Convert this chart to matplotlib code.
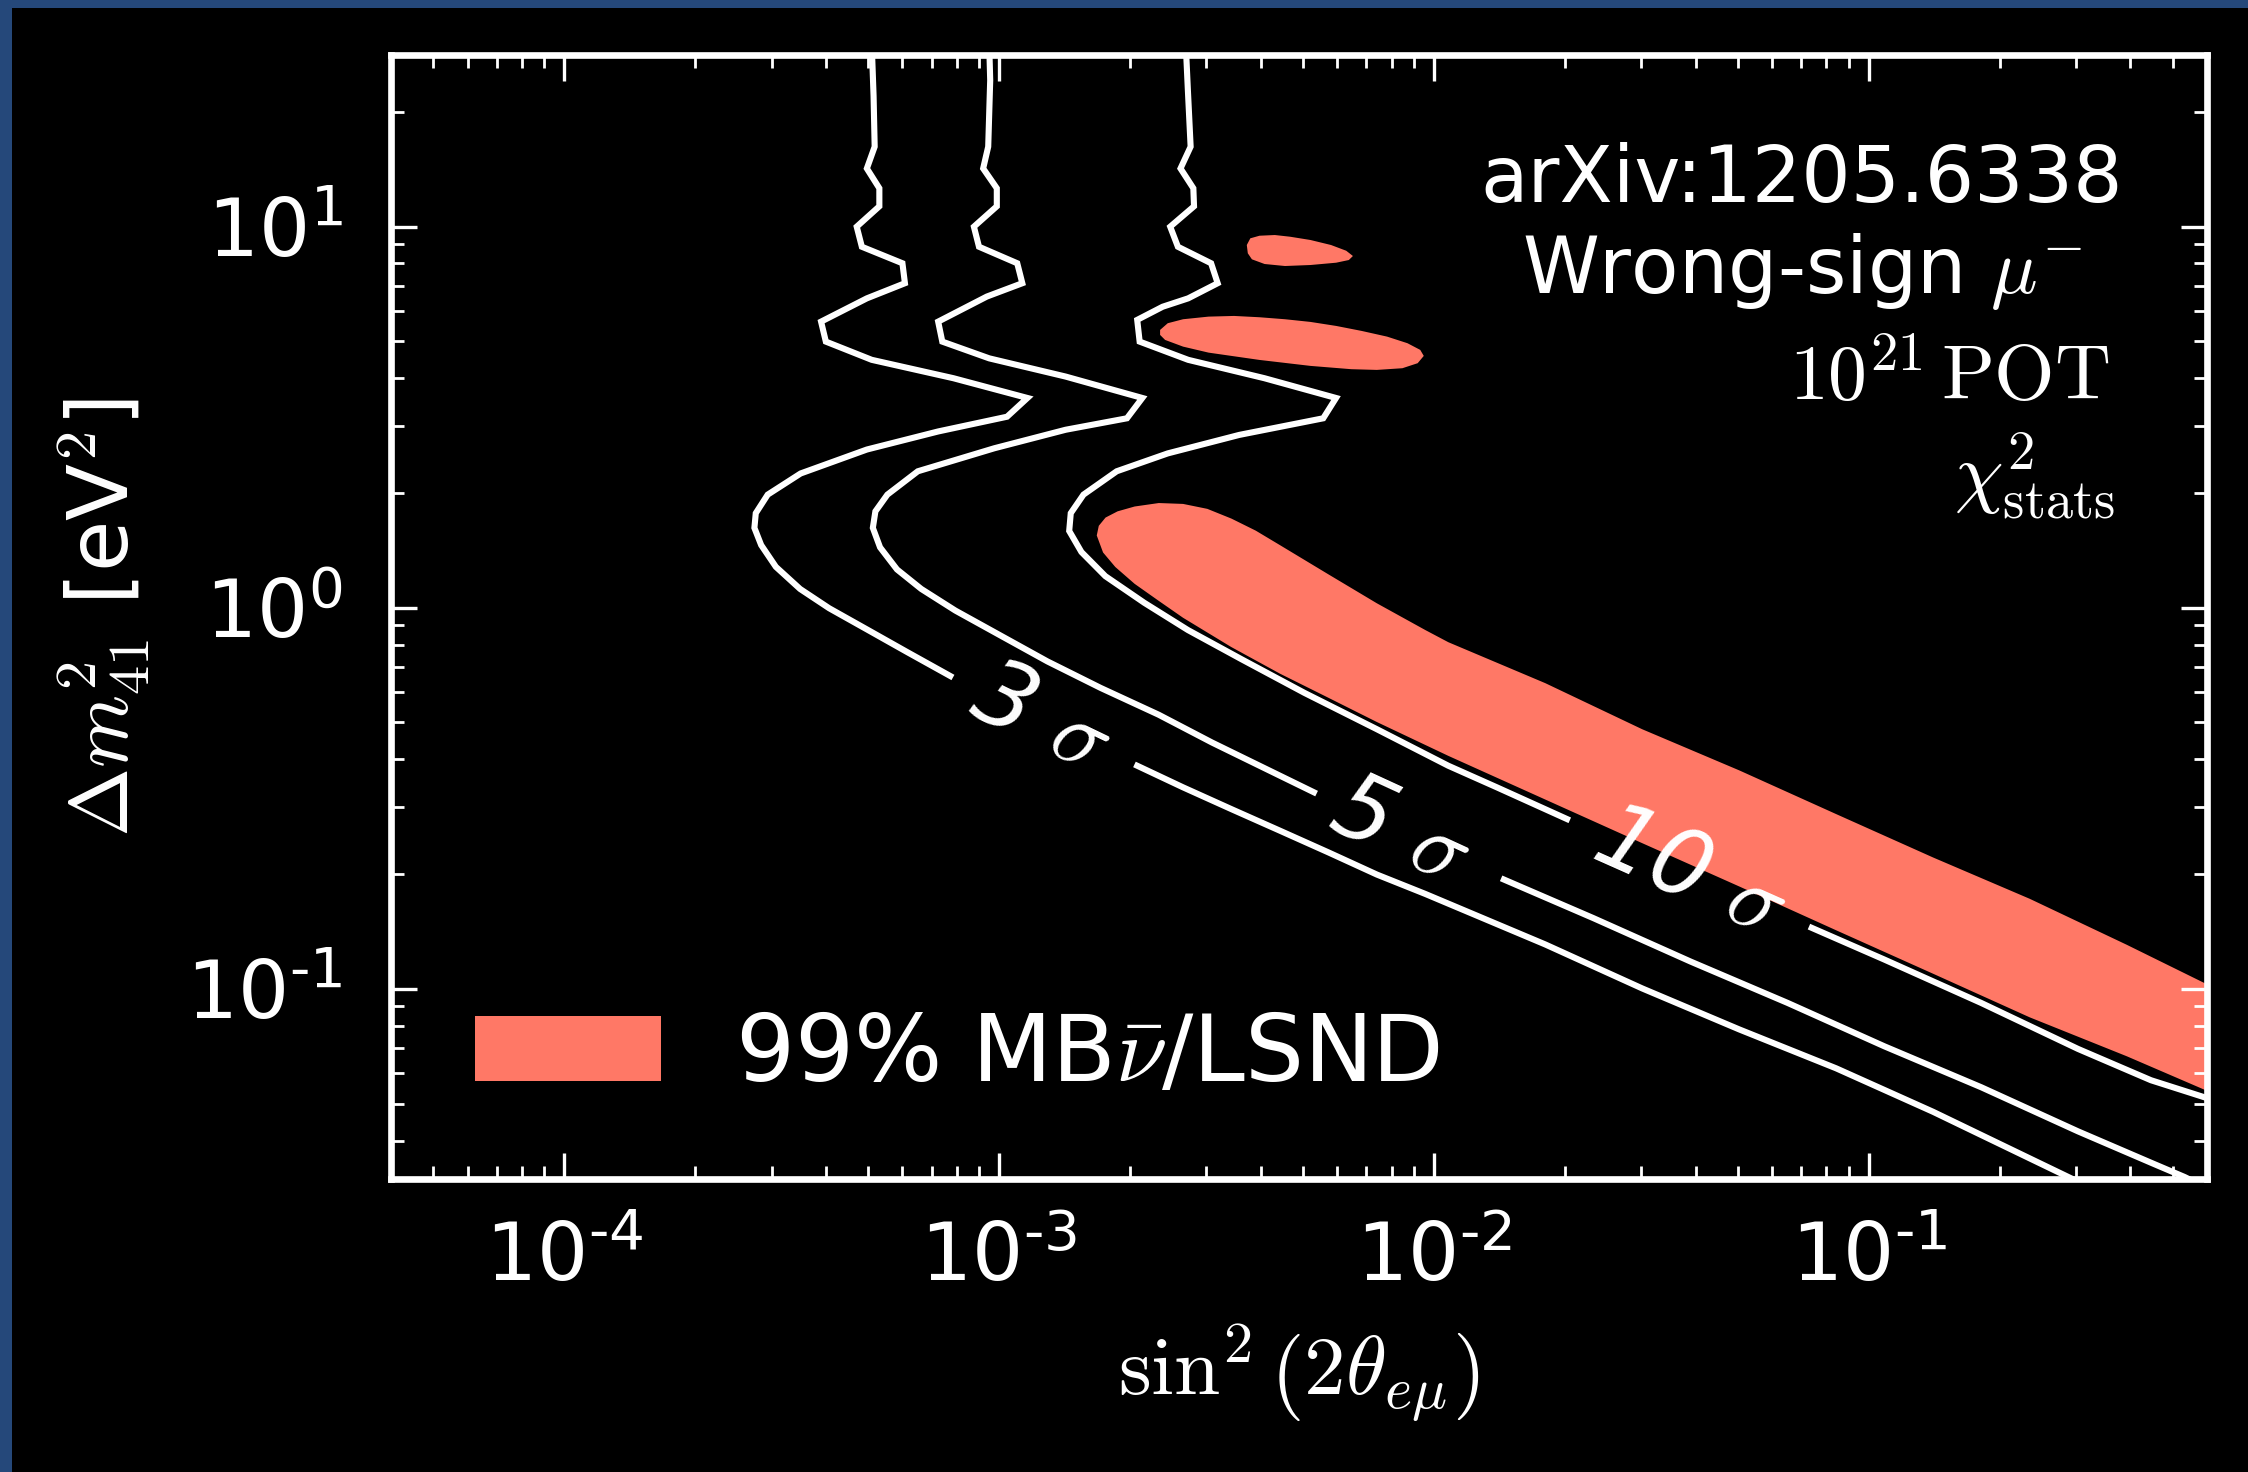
import numpy as np
import matplotlib
matplotlib.use("Agg")
import matplotlib.pyplot as plt
from matplotlib.patches import Patch, Rectangle
from matplotlib.ticker import LogLocator, NullFormatter

plt.rcParams['mathtext.fontset'] = 'cm'
plt.rcParams['font.family'] = ['DejaVu Sans']
plt.rcParams['axes.unicode_minus'] = False

# ---------------- data ----------------
# 3 sigma contour: part before the label, part after the label
sig3_a_x = [5.10e-4, 5.15e-4, 5.18e-4, 4.97e-4, 5.31e-4, 5.31e-4, 4.71e-4, 4.84e-4, 6.00e-4, 6.08e-4,
            4.97e-4, 3.90e-4, 4.00e-4, 5.10e-4, 7.86e-4, 1.163e-3, 1.044e-3, 7.25e-4, 4.97e-4, 3.50e-4,
            2.94e-4, 2.76e-4, 2.74e-4, 2.84e-4, 3.07e-4, 3.49e-4, 4.07e-4, 5.00e-4, 6.14e-4, 7.73e-4]
sig3_a_y = [30, 22, 16.2, 14.2, 12.6, 11.3, 9.99, 8.85, 8.01, 7.10,
            6.48, 5.63, 4.99, 4.47, 4.00, 3.55, 3.17, 2.90, 2.60, 2.25,
            1.98, 1.77, 1.62, 1.46, 1.28, 1.12, 0.997, 0.874, 0.766, 0.662]
sig3_b_x = [2.08e-3, 2.65e-3, 3.43e-3, 4.43e-3, 5.73e-3, 7.40e-3, 9.56e-3, 1.805e-2, 3.015e-2,
            5.04e-2, 8.42e-2, 0.1407, 0.288, 0.33]
sig3_b_y = [0.385, 0.338, 0.296, 0.260, 0.228, 0.1995, 0.1775, 0.1308, 0.1003,
            0.0783, 0.0619, 0.0476, 0.0321, 0.0298]

# 5 sigma contour
sig5_a_x = [9.50e-4, 9.55e-4, 9.45e-4, 9.20e-4, 9.89e-4, 9.89e-4, 8.76e-4, 9.00e-4, 1.102e-3, 1.132e-3,
            9.38e-4, 7.25e-4, 7.41e-4, 9.50e-4, 1.424e-3, 2.137e-3, 1.97e-3, 1.424e-3, 9.76e-4, 6.51e-4,
            5.54e-4, 5.20e-4, 5.13e-4, 5.33e-4, 5.83e-4, 6.63e-4, 7.94e-4, 1.0e-3, 1.293e-3, 1.714e-3,
            2.33e-3, 3.09e-3, 5.30e-3]
sig5_a_y = [30, 24.2, 16.2, 14.2, 12.6, 11.3, 9.99, 8.85, 8.01, 7.10,
            6.55, 5.63, 4.99, 4.51, 4.04, 3.55, 3.14, 2.93, 2.62, 2.28,
            1.98, 1.79, 1.62, 1.44, 1.26, 1.12, 0.983, 0.850, 0.723, 0.616,
            0.524, 0.443, 0.328]
sig5_b_x = [1.45e-2, 2.33e-2, 3.90e-2, 6.51e-2, 0.1087, 0.1816, 0.303, 0.446, 0.533, 0.62]
sig5_b_y = [0.1936, 0.1533, 0.1179, 0.0919, 0.0707, 0.0552, 0.0423, 0.0350, 0.0321, 0.0295]

# 10 sigma contour
sig10_a_x = [2.69e-3, 2.72e-3, 2.76e-3, 2.616e-3, 2.80e-3, 2.81e-3, 2.477e-3, 2.58e-3, 3.076e-3, 3.185e-3,
             2.724e-3, 2.38e-3, 2.08e-3, 2.107e-3, 2.724e-3, 4.08e-3, 5.96e-3, 5.57e-3, 3.57e-3, 2.445e-3,
             1.866e-3, 1.565e-3, 1.463e-3, 1.451e-3, 1.548e-3, 1.757e-3, 2.16e-3, 2.72e-3, 3.61e-3, 5.04e-3,
             7.40e-3, 1.08e-2, 1.396e-2, 2.025e-2]
sig10_a_y = [30, 22.8, 16.2, 14.2, 12.6, 11.3, 9.99, 8.85, 8.01, 7.10,
             6.48, 6.16, 5.69, 4.99, 4.47, 4.00, 3.55, 3.14, 2.84, 2.54,
             2.28, 1.98, 1.77, 1.59, 1.40, 1.21, 1.03, 0.874, 0.733, 0.598,
             0.480, 0.385, 0.338, 0.279]
sig10_b_x = [7.40e-2, 0.1085, 0.1814, 0.303, 0.446, 0.594, 0.65]
sig10_b_y = [0.1446, 0.1195, 0.0919, 0.0696, 0.0576, 0.0519, 0.0500]

# 99% MB-nubar/LSND allowed regions
band_x = [1.679e-3, 1.697e-3, 1.759e-3, 1.875e-3, 2.052e-3, 2.332e-3, 2.652e-3, 3.015e-3, 3.426e-3, 3.896e-3,
          4.431e-3, 5.72e-3, 7.40e-3, 9.56e-3, 1.08e-2, 1.805e-2, 3.015e-2, 5.04e-2, 8.42e-2, 0.1407,
          0.2348, 0.392, 0.594, 0.65,
          0.65, 0.594, 0.392, 0.2348, 0.1407, 8.42e-2, 5.04e-2, 3.015e-2, 1.805e-2, 1.08e-2,
          7.40e-3, 5.72e-3, 4.43e-3, 3.42e-3, 2.652e-3, 2.332e-3, 2.052e-3, 1.852e-3, 1.736e-3]
band_y = [1.547, 1.640, 1.724, 1.790, 1.843, 1.882, 1.872, 1.817, 1.713, 1.593,
          1.459, 1.224, 1.027, 0.874, 0.812, 0.634, 0.480, 0.3744, 0.2875, 0.2212,
          0.1723, 0.1306, 0.1034, 0.0988,
          0.0519, 0.0543, 0.0666, 0.0842, 0.1096, 0.1425, 0.1857, 0.2412, 0.3139, 0.4087,
          0.5013, 0.5807, 0.6714, 0.789, 0.941, 1.042, 1.155, 1.279, 1.396]
blob_top_x = [3.716e-3, 3.786e-3, 3.975e-3, 4.310e-3, 4.673e-3, 5.207e-3, 5.804e-3, 6.290e-3, 6.518e-3,
              6.378e-3, 5.963e-3, 5.207e-3, 4.549e-3, 4.083e-3, 3.818e-3, 3.736e-3]
blob_top_y = [8.944, 9.313, 9.460, 9.500, 9.403, 9.218, 8.944, 8.640, 8.369,
              8.168, 8.037, 7.926, 7.878, 7.974, 8.203, 8.507]
blob_mid_x = [2.348e-3, 2.445e-3, 2.652e-3, 3.034e-3, 3.473e-3, 3.975e-3, 4.549e-3, 5.207e-3, 5.963e-3,
              6.824e-3, 7.809e-3, 8.700e-3, 9.31e-3, 9.485e-3, 9.184e-3, 8.470e-3, 7.397e-3, 6.464e-3,
              5.207e-3, 3.975e-3, 3.034e-3, 2.652e-3, 2.411e-3, 2.348e-3]
blob_mid_y = [5.355, 5.576, 5.712, 5.803, 5.827, 5.781, 5.712, 5.620, 5.486,
              5.323, 5.143, 4.942, 4.746, 4.577, 4.380, 4.249, 4.206, 4.224,
              4.309, 4.467, 4.669, 4.841, 5.041, 5.196]

contour_labels = [r'3 $\sigma$', r'5 $\sigma$', r'10 $\sigma$']
contour_label_pos = [(1.252e-3, 0.5085), (8.38e-3, 0.258), (3.89e-2, 0.2008)]
contour_label_rot = [-25.7, -24.7, -24.0]

x_ticks = [1e-4, 1e-3, 1e-2, 1e-1]
x_tick_labels = ['$\\mathdefault{10^{\u20104}}$', '$\\mathdefault{10^{\u20103}}$',
                 '$\\mathdefault{10^{\u20102}}$', '$\\mathdefault{10^{\u20101}}$']
y_ticks = [1e-1, 1e0, 1e1]
y_tick_labels = ['$\\mathdefault{10^{\u20101}}$', '$\\mathdefault{10^{0}}$', '$\\mathdefault{10^{1}}$']

legend_label = r'99% MB$\bar{\nu}$/LSND'
info_lines = ['arXiv:1205.6338', 'Wrong-sign $\\mu^{-}$', '$10^{21}\\,\\mathrm{POT}$', '$\\chi^2_{\\rm stats}$']

SALMON = '#FF7866'
NAVY = '#25487a'

# ---------------- figure ----------------
fig = plt.figure(figsize=(11.24, 7.36), dpi=200, facecolor='black')
ax = fig.add_axes([0.17393, 0.19871, 0.80783, 0.76393])
ax.set_facecolor('black')
ax.set_xscale('log')
ax.set_yscale('log')
ax.set_xlim(4e-5, 0.6)
ax.set_ylim(10 ** -1.5, 10 ** 1.45)

ax.fill(band_x, band_y, color=SALMON, lw=0, zorder=1)
ax.fill(blob_top_x, blob_top_y, color=SALMON, lw=0, zorder=1)
ax.fill(blob_mid_x, blob_mid_y, color=SALMON, lw=0, zorder=1)

lw = 2.2
for xs, ys in [(sig3_a_x, sig3_a_y), (sig3_b_x, sig3_b_y),
               (sig5_a_x, sig5_a_y), (sig5_b_x, sig5_b_y),
               (sig10_a_x, sig10_a_y), (sig10_b_x, sig10_b_y)]:
    ax.plot(xs, ys, color='white', lw=lw, solid_joinstyle='miter', zorder=2)

for lab, (px, py), rot in zip(contour_labels, contour_label_pos, contour_label_rot):
    ax.text(px, py, lab, rotation=rot, rotation_mode='anchor', ha='center', va='center',
            fontsize=33, style='italic', color='white', zorder=3)

# annotation block (top right)
info_pos = [(0.777, 0.8693, 'center'), (0.777, 0.7884, 'center'),
            (0.9466, 0.6932, 'right'), (0.9493, 0.6052, 'right')]
for txt, (px, py, ha) in zip(info_lines, info_pos):
    ax.text(px, py, txt, transform=ax.transAxes, ha=ha, va='baseline',
            color='white', fontsize=28, zorder=3)

# axes styling
for sp in ax.spines.values():
    sp.set_color('white')
    sp.set_linewidth(2.4)
ax.set_xticks(x_ticks, labels=x_tick_labels)
ax.set_yticks(y_ticks, labels=y_tick_labels)
ax.xaxis.set_minor_locator(LogLocator(base=10, subs=np.arange(2, 10), numticks=100))
ax.yaxis.set_minor_locator(LogLocator(base=10, subs=np.arange(2, 10), numticks=100))
ax.xaxis.set_minor_formatter(NullFormatter())
ax.yaxis.set_minor_formatter(NullFormatter())
ax.tick_params(which='both', direction='in', top=True, right=True, colors='white')
ax.tick_params(which='major', length=9.2, width=1.2, labelsize=29)
ax.tick_params(which='minor', length=4.6, width=1.0)
ax.tick_params(axis='x', which='major', pad=14.5)
ax.tick_params(axis='y', which='major', pad=17.5)

ax.set_xlabel(r'$\sin^2\left(2\theta_{e\mu}\right)$', fontsize=30, color='white', labelpad=9)
ax.set_ylabel(r'$\Delta m^2_{41}$ [eV$^2$]', fontsize=30, color='white', labelpad=12.4)

leg = ax.legend(handles=[Patch(facecolor=SALMON, edgecolor='none', label=legend_label)],
                loc='lower left', bbox_to_anchor=(0, -0.004), frameon=False,
                fontsize=33.5, labelcolor='white')

# navy frame of the screenshot (top and left edges)
fig.add_artist(Rectangle((0, 1 - 7.5 / 1472), 1, 7.5 / 1472, transform=fig.transFigure,
                         facecolor=NAVY, edgecolor='none', zorder=10))
fig.add_artist(Rectangle((0, 0), 11.5 / 2248, 1, transform=fig.transFigure,
                         facecolor=NAVY, edgecolor='none', zorder=10))

fig.savefig('out.png', dpi=200, facecolor='black')
